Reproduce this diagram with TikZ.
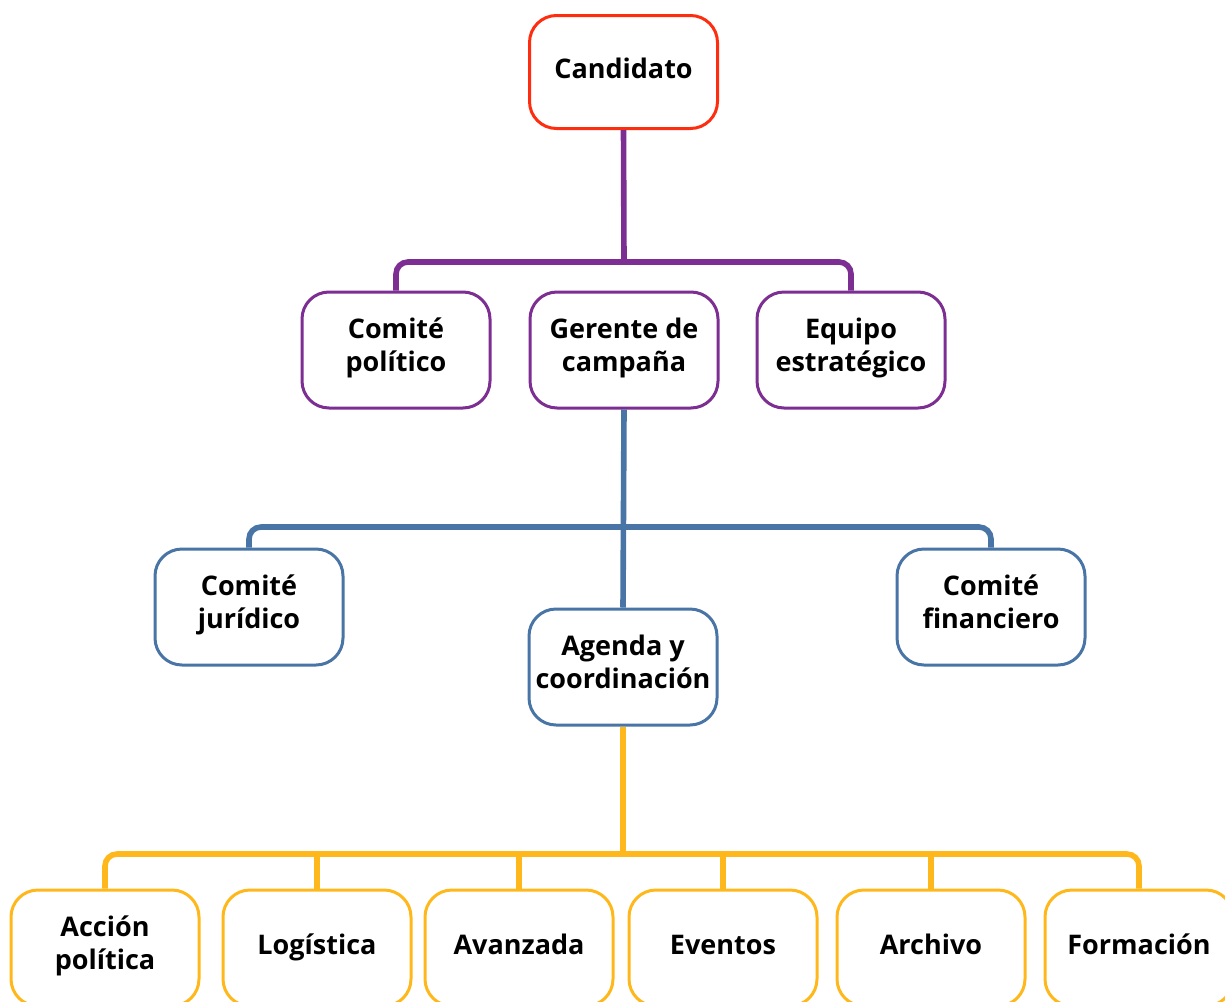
\documentclass[tikz,border=0pt]{standalone}
\usepackage{fontspec}
\setmainfont{Open Sans}
\usepackage{tikz}

\definecolor{candred}{RGB}{255,45,15}
\definecolor{orgpurple}{RGB}{125,46,146}
\definecolor{orgblue}{RGB}{72,116,166}
\definecolor{orgyellow}{RGB}{255,184,28}

\begin{document}
\begin{tikzpicture}[x=0.5pt, y=-0.5pt,
    box/.style={draw, line width=1.5pt, rounded corners=13.5pt, fill=white,
        minimum width=94pt, minimum height=58pt, inner sep=0pt, align=center,
        font=\fontsize{13.5}{16.5}\selectfont\bfseries,
        execute at begin node=\strut, execute at end node=\strut},
    link/.style={line width=2.8pt, rounded corners=6pt}]
        \useasboundingbox (0,0) rectangle (1225,1001);

        % Boxes
        \node [box, draw=candred, minimum height=56.5pt] (cand) at (623.5,72) {Candidato};
        \node [box, draw=orgpurple] (pol) at (396,350) {Comité\\político};
        \node [box, draw=orgpurple] (ger) at (624,350) {Gerente de\\campaña};
        \node [box, draw=orgpurple] (equ) at (851,350) {Equipo\\estratégico};
        \node [box, draw=orgblue] (jur) at (249,607) {Comité\\jurídico};
        \node [box, draw=orgblue] (age) at (623,667) {Agenda y\\coordinación};
        \node [box, draw=orgblue] (fin) at (991,607) {Comité\\financiero};
        \node [box, draw=orgyellow] (acc) at (105,948) {Acción\\política};
        \node [box, draw=orgyellow] (log) at (317,948) {Logística};
        \node [box, draw=orgyellow] (ava) at (519,948) {Avanzada};
        \node [box, draw=orgyellow] (eve) at (723,948) {Eventos};
        \node [box, draw=orgyellow] (arc) at (931,948) {Archivo};
        \node [box, draw=orgyellow] (for) at (1139,948) {Formación};

        % Lines
        \coordinate (pj) at (624,262);
        \coordinate (bj) at (624,527);
        \coordinate (yj) at (623,854);
        \draw [link, orgpurple] (cand.south) -- (pj);
        \draw [link, orgpurple] (pol.north) |- (pj) -| (equ.north);
        \draw [link, orgblue] (ger.south) -- (age.north);
        \draw [link, orgblue] (jur.north) |- (bj) -| (fin.north);
        \draw [link, orgyellow] (age.south) -- (yj);
        \draw [link, orgyellow] (acc.north) |- (yj) -| (for.north);
        \foreach \n in {log,ava,eve,arc}
            \draw [link, orgyellow] (\n.north) -- (\n.north |- yj);
    \end{tikzpicture}
\end{document}
